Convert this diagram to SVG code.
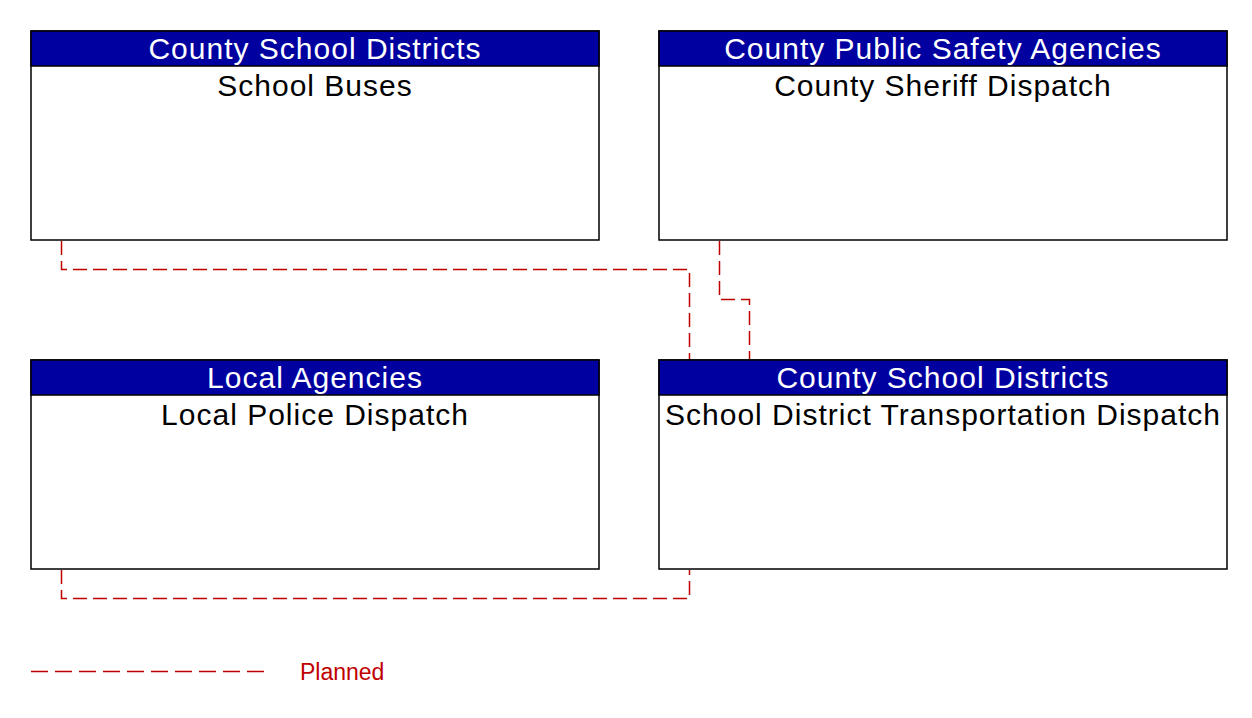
<svg xmlns="http://www.w3.org/2000/svg" width="1252" height="718" viewBox="0 0 1252 718">
<style>
.box{fill:#fff;stroke:#000;stroke-width:1.5}
.hdr{fill:#0000A0;stroke:#000;stroke-width:1.5}
.ht{font-family:"Liberation Sans",Arial,sans-serif;font-size:30px;letter-spacing:1px;fill:#fff;text-anchor:middle}
.bt{font-family:"Liberation Sans",Arial,sans-serif;font-size:30px;letter-spacing:1px;fill:#000;text-anchor:middle}
.con{fill:none;stroke:#C00000;stroke-width:1.5;stroke-dasharray:14 6}
</style>
<rect width="1252" height="718" fill="#fff"/>
<g id="connectors">
<polyline class="con" points="61.5,241 61.5,269.5 689.5,269.5 689.5,360"/>
<polyline class="con" points="719.5,241 719.5,299.5 749.5,299.5 749.5,360"/>
<polyline class="con" points="61.5,570 61.5,598.5 689.5,598.5 689.5,570"/>
</g>
<g id="school-buses">
<rect class="box" x="31" y="31" width="568" height="209"/>
<rect class="hdr" x="31" y="31" width="568" height="35"/>
<text class="ht" x="315" y="59">County School Districts</text>
<text class="bt" x="315" y="96">School Buses</text>
</g>
<g id="county-sheriff-dispatch">
<rect class="box" x="659" y="31" width="568" height="209"/>
<rect class="hdr" x="659" y="31" width="568" height="35"/>
<text class="ht" x="943" y="59">County Public Safety Agencies</text>
<text class="bt" x="943" y="96">County Sheriff Dispatch</text>
</g>
<g id="local-police-dispatch">
<rect class="box" x="31" y="360" width="568" height="209"/>
<rect class="hdr" x="31" y="360" width="568" height="35"/>
<text class="ht" x="315" y="388">Local Agencies</text>
<text class="bt" x="315" y="425">Local Police Dispatch</text>
</g>
<g id="school-district-transportation-dispatch">
<rect class="box" x="659" y="360" width="568" height="209"/>
<rect class="hdr" x="659" y="360" width="568" height="35"/>
<text class="ht" x="943" y="388">County School Districts</text>
<text class="bt" x="943" y="425">School District Transportation Dispatch</text>
</g>
<g id="legend">
<line x1="31" y1="671.5" x2="265" y2="671.5" stroke="#C00000" stroke-width="1.5" stroke-dasharray="17 7"/>
<text x="300" y="680" font-family="'Liberation Sans',Arial,sans-serif" font-size="23" fill="#C00000">Planned</text>
</g>
</svg>
